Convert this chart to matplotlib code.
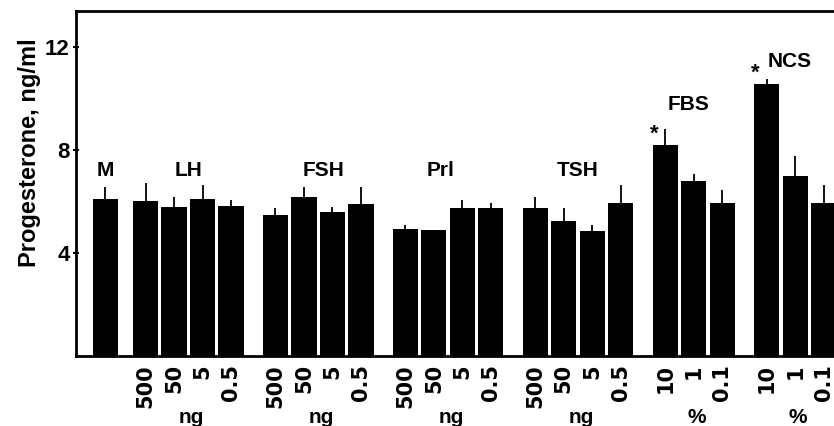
import matplotlib.pyplot as plt

# Progesterone secretion per treatment
groups = ['M', 'LH', 'FSH', 'Prl', 'TSH', 'FBS', 'NCS']
units = ['', 'ng', 'ng', 'ng', 'ng', '%', '%']
doses = [[''],
         ['500', '50', '5', '0.5'],
         ['500', '50', '5', '0.5'],
         ['500', '50', '5', '0.5'],
         ['500', '50', '5', '0.5'],
         ['10', '1', '0.1'],
         ['10', '1', '0.1']]
progesterone = [[6.08],
                [6.02, 5.77, 6.08, 5.84],
                [5.48, 6.19, 5.58, 5.90],
                [4.93, 4.89, 5.76, 5.76],
                [5.76, 5.25, 4.87, 5.95],
                [8.19, 6.81, 5.95],
                [10.56, 6.99, 5.95]]
sem = [[0.49],
       [0.69, 0.42, 0.56, 0.22],
       [0.26, 0.38, 0.22, 0.67],
       [0.16, 0.0, 0.30, 0.19],
       [0.43, 0.49, 0.22, 0.69],
       [0.61, 0.26, 0.50],
       [0.18, 0.78, 0.69]]
significant = [[0], [0, 0, 0, 0], [0, 0, 0, 0], [0, 0, 0, 0],
               [0, 0, 0, 0], [1, 0, 0], [1, 0, 0]]

# layout
first_gap = 1.42
group_gap = 1.56
bar_w = 0.88
label_y = [7.22, 7.22, 7.22, 7.22, 7.22, 9.75, 11.42]
label_dx = [0, 0, 0.2, -0.25, 0, -0.2, -0.2]

plt.rcParams['font.family'] = ['Liberation Sans', 'DejaVu Sans']

fig = plt.figure(figsize=(8.34, 4.26), dpi=100)
ax = fig.add_axes([76 / 834, 70 / 426, 1 - 76 / 834, 345 / 426])

x = 0.0
xs, vals, errs, ticklabels = [], [], [], []
for g in range(len(groups)):
    if g == 1:
        x += first_gap
    elif g > 1:
        x += group_gap
    gx = []
    for i, v in enumerate(progesterone[g]):
        if i > 0:
            x += 1
        gx.append(x)
    xs += gx
    vals += progesterone[g]
    errs += sem[g]
    ticklabels += doses[g]
    cx = sum(gx) / len(gx)
    ax.text(cx + label_dx[g], label_y[g], groups[g], ha='center', va='center',
            fontsize=15, fontweight='bold')
    if units[g]:
        ax.text(cx + 0.1, -0.177, units[g], transform=ax.get_xaxis_transform(),
                ha='center', va='center', fontsize=15, fontweight='heavy')
    for i, s in enumerate(significant[g]):
        if s:
            ax.text(gx[i] - 0.4, progesterone[g][i] + 0.42, '*', ha='center',
                    va='center', fontsize=16, fontweight='bold')

ax.bar(xs, vals, width=bar_w, color='black', edgecolor='none')
ax.errorbar(xs, vals, yerr=[[0] * len(errs), errs], fmt='none',
            ecolor='black', elinewidth=1.3, capsize=0)

ax.set_xlim(-1.02, 25.58)
ax.set_ylim(0, 13.4)
ax.set_yticks([4, 8, 12])
ax.set_yticklabels(['4', '8', '12'], fontsize=16, fontweight='bold')
ax.tick_params(axis='y', direction='inout', length=5, width=1.5, pad=2)
ax.set_xticks(xs)
ax.set_xticklabels(ticklabels, rotation=90, fontsize=15, fontweight='bold',
                   family='DejaVu Sans')
ax.tick_params(axis='x', length=0, pad=6)

for side in ['left', 'top', 'bottom']:
    ax.spines[side].set_linewidth(2)
ax.spines['right'].set_visible(False)

fig.text(30 / 834, 1 - 153 / 426, 'Progesterone, ng/ml', rotation=90,
         ha='center', va='center', fontsize=17, fontweight='bold')

fig.savefig('out.png', dpi=100)
